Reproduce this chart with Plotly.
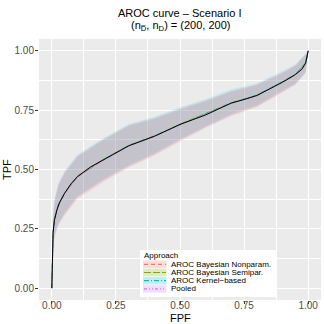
import plotly.graph_objects as go

# true AROC curve (black line)
fpf_true = [0, 0.002, 0.005, 0.01, 0.02, 0.03, 0.05, 0.075, 0.1, 0.15, 0.2, 0.25, 0.3, 0.35,
            0.4, 0.45, 0.5, 0.55, 0.6, 0.65, 0.7, 0.75, 0.8, 0.85, 0.9, 0.95, 0.975, 0.99, 1.0]
tpf_true = [0, 0.17, 0.235, 0.285, 0.33, 0.36, 0.40, 0.44, 0.47, 0.51, 0.54, 0.57, 0.60, 0.62,
            0.64, 0.665, 0.69, 0.71, 0.73, 0.755, 0.78, 0.795, 0.812, 0.84, 0.868, 0.90, 0.922, 0.948, 1.0]

# grid for the estimated curves and bands
fpf = [0, 0.005, 0.01, 0.025, 0.05, 0.1, 0.2, 0.3, 0.4, 0.5, 0.6, 0.7, 0.8, 0.9, 0.95, 0.99, 1.0]

approaches = ["AROC Bayesian Nonparam.", "AROC Bayesian Semipar.", "AROC Kernel\u2212based", "Pooled"]

est = {
    "AROC Bayesian Nonparam.": [0, 0.232, 0.288, 0.348, 0.398, 0.468, 0.538, 0.598, 0.641, 0.689, 0.733, 0.779, 0.813, 0.869, 0.901, 0.949, 1.0],
    "AROC Bayesian Semipar.": [0, 0.228, 0.292, 0.352, 0.402, 0.472, 0.542, 0.601, 0.639, 0.691, 0.736, 0.781, 0.811, 0.871, 0.899, 0.947, 1.0],
    "AROC Kernel\u2212based": [0, 0.236, 0.290, 0.350, 0.401, 0.470, 0.541, 0.602, 0.642, 0.690, 0.735, 0.780, 0.814, 0.870, 0.902, 0.950, 1.0],
    "Pooled": [0, 0.238, 0.291, 0.351, 0.399, 0.469, 0.539, 0.599, 0.640, 0.688, 0.734, 0.779, 0.812, 0.868, 0.900, 0.948, 1.0],
}
lower = {
    "AROC Bayesian Nonparam.": [0, 0.165, 0.212, 0.262, 0.305, 0.375, 0.445, 0.508, 0.558, 0.618, 0.675, 0.725, 0.762, 0.825, 0.857, 0.905, 1.0],
    "AROC Bayesian Semipar.": [0, 0.170, 0.220, 0.270, 0.315, 0.385, 0.455, 0.515, 0.565, 0.625, 0.680, 0.730, 0.767, 0.830, 0.860, 0.910, 1.0],
    "AROC Kernel\u2212based": [0, 0.172, 0.222, 0.272, 0.317, 0.387, 0.458, 0.518, 0.568, 0.627, 0.682, 0.735, 0.772, 0.835, 0.862, 0.912, 1.0],
    "Pooled": [0, 0.168, 0.218, 0.268, 0.312, 0.382, 0.452, 0.512, 0.562, 0.622, 0.678, 0.728, 0.765, 0.828, 0.858, 0.908, 1.0],
}
upper = {
    "AROC Bayesian Nonparam.": [0, 0.290, 0.358, 0.428, 0.482, 0.552, 0.622, 0.682, 0.712, 0.752, 0.787, 0.827, 0.855, 0.905, 0.935, 0.982, 1.0],
    "AROC Bayesian Semipar.": [0, 0.292, 0.360, 0.430, 0.485, 0.555, 0.625, 0.685, 0.715, 0.755, 0.790, 0.830, 0.857, 0.908, 0.938, 0.984, 1.0],
    "AROC Kernel\u2212based": [0, 0.298, 0.366, 0.438, 0.492, 0.562, 0.632, 0.692, 0.722, 0.762, 0.797, 0.838, 0.864, 0.915, 0.943, 0.987, 1.0],
    "Pooled": [0, 0.305, 0.372, 0.442, 0.494, 0.560, 0.628, 0.688, 0.718, 0.757, 0.792, 0.832, 0.859, 0.910, 0.940, 0.985, 1.0],
}

colors = {"AROC Bayesian Nonparam.": "248,118,109", "AROC Bayesian Semipar.": "124,174,0",
          "AROC Kernel\u2212based": "0,191,196", "Pooled": "199,124,255"}
band_alpha = {"AROC Bayesian Nonparam.": 0.15, "AROC Bayesian Semipar.": 0.1,
              "AROC Kernel\u2212based": 0.13, "Pooled": 0.17}
dashes = {"AROC Bayesian Nonparam.": "4px,3px", "AROC Bayesian Semipar.": "7px,2px",
          "AROC Kernel\u2212based": "5px,2px,1px,2px", "Pooled": "3px,2px,1px,2px,1px,2px"}

FONT = "Liberation Sans, Arial, sans-serif"

# panel in pixels (for placing the hand-made legend and labels)
PL, PR, PT, PB = 39, 321, 39, 300


def px2x(px):
    return (px - PL) / (PR - PL)


def px2y(py):
    return (PB - py) / (PB - PT)


fig = go.Figure()

# ribbons
for a in approaches:
    c = colors[a]
    fig.add_trace(go.Scatter(x=fpf, y=lower[a], mode="lines", line=dict(width=0),
                             showlegend=False, hoverinfo="skip"))
    fig.add_trace(go.Scatter(x=fpf, y=upper[a], mode="lines", line=dict(width=0),
                             fill="tonexty", fillcolor="rgba(%s,%s)" % (c, band_alpha[a]),
                             showlegend=False, hoverinfo="skip"))

# estimated curves
for a in approaches:
    fig.add_trace(go.Scatter(x=fpf, y=est[a], mode="lines", showlegend=False,
                             line=dict(color="rgb(%s)" % colors[a], width=1, dash=dashes[a])))

# true curve
fig.add_trace(go.Scatter(x=fpf_true, y=tpf_true, mode="lines", showlegend=False,
                         line=dict(color="black", width=1)))

axis_common = dict(
    range=[-0.05, 1.05], tickvals=[0, 0.25, 0.5, 0.75, 1.0], tickformat=".2f",
    showgrid=True, gridcolor="white", gridwidth=1.1, zeroline=False, automargin=False,
    minor=dict(showgrid=True, gridcolor="white", gridwidth=0.5, tickvals=[0.125, 0.375, 0.625, 0.875]),
    ticks="outside", ticklen=3, tickcolor="#333333", tickwidth=0.8,
    tickfont=dict(family=FONT, size=10, color="#4D4D4D"), showline=False,
)

shapes = []
annotations = [
    dict(text="AROC curve \u2013 Scenario I", x=0.5, y=px2y(12.5), xref="paper", yref="paper",
         showarrow=False, font=dict(family=FONT, size=11, color="black"), yanchor="middle"),
    dict(text="(n<sub>D\u0305</sub>, n<sub>D</sub>) = (200, 200)", x=0.5, y=px2y(25.5),
         xref="paper", yref="paper", showarrow=False,
         font=dict(family=FONT, size=11, color="black"), yanchor="middle"),
    dict(text="TPF", x=px2x(6.5), y=0.5, xref="paper", yref="paper", showarrow=False,
         xanchor="center", yanchor="middle",
         textangle=-90, font=dict(family=FONT, size=11, color="black")),
    dict(text="FPF", x=0.5, y=px2y(317.5), xref="paper", yref="paper", showarrow=False,
         yanchor="middle", font=dict(family=FONT, size=11, color="black")),
]

# hand-made legend (plotly's own legend rows are too tall for this size)
shapes.append(dict(type="rect", xref="paper", yref="paper", x0=px2x(140), x1=px2x(277),
                   y0=px2y(297), y1=px2y(250), fillcolor="white", line=dict(width=0), layer="above"))
annotations.append(dict(text="Approach", x=px2x(142), y=px2y(255.5), xref="paper", yref="paper",
                        xanchor="left", yanchor="middle", showarrow=False,
                        font=dict(family=FONT, size=8, color="black")))
for i, a in enumerate(approaches):
    c = colors[a]
    yc = 264.3 + 8.2 * i
    shapes.append(dict(type="rect", xref="paper", yref="paper", x0=px2x(143), x1=px2x(166.5),
                       y0=px2y(yc + 3.8), y1=px2y(yc - 3.8), fillcolor="rgba(%s,0.25)" % c,
                       line=dict(width=0), layer="above"))
    shapes.append(dict(type="line", xref="paper", yref="paper", x0=px2x(144), x1=px2x(166),
                       y0=px2y(yc), y1=px2y(yc), layer="above",
                       line=dict(color="rgb(%s)" % c, width=1.2, dash=dashes[a])))
    annotations.append(dict(text=a, x=px2x(168.5), y=px2y(yc), xref="paper", yref="paper",
                            xanchor="left", yanchor="middle", showarrow=False,
                            font=dict(family=FONT, size=8, color="black")))

fig.update_layout(
    width=324, height=324,
    margin=dict(l=PL, r=324 - PR, t=PT, b=324 - PB),
    paper_bgcolor="white", plot_bgcolor="#EBEBEB",
    xaxis=axis_common, yaxis=axis_common,
    font=dict(family=FONT),
    showlegend=False,
    shapes=shapes,
    annotations=annotations,
)
fig.update_xaxes(ticklabelstandoff=-7)
fig.update_yaxes(ticklabelstandoff=-1)

fig.write_html("out.html", config={"displayModeBar": False},
               post_script="document.body.style.margin='0';document.body.style.overflow='hidden';")
